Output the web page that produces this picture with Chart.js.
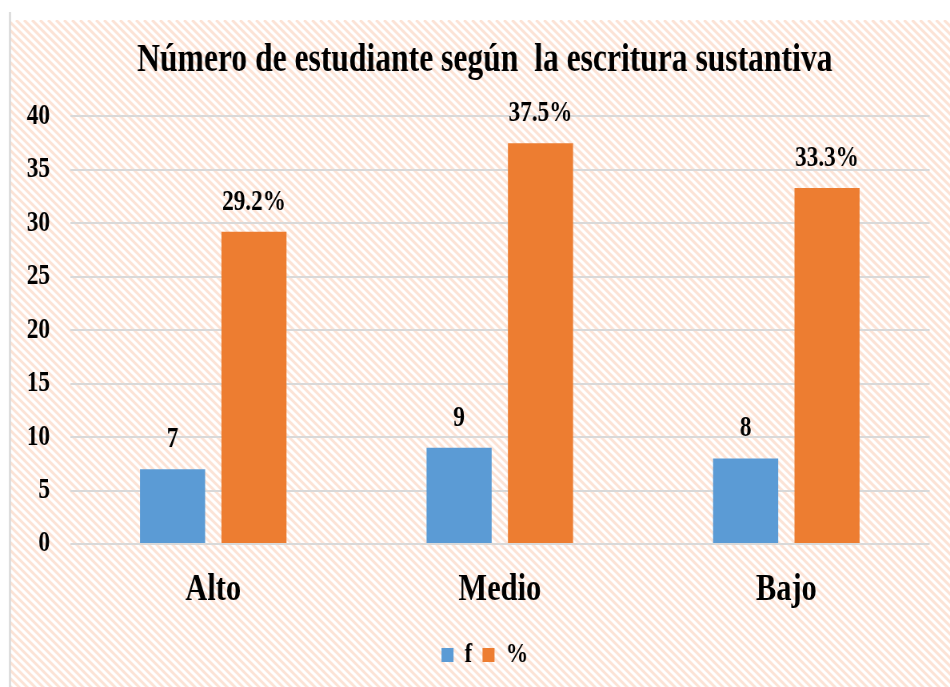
<!DOCTYPE html>
<html>
<head>
<meta charset="utf-8">
<script src="https://cdn.jsdelivr.net/npm/chart.js@4.4.0/dist/chart.umd.min.js"></script>
<style>
  html, body { margin: 0; padding: 0; background: #fff; }
</style>
</head>
<body>
<!-- drawn wider than shown, so the text comes out narrow like the original -->
<canvas id="myChart" width="1188" height="687" style="width:950px;height:687px;display:block"></canvas>
<script>
const categories = ["Alto", "Medio", "Bajo"];
const fValues = [7, 9, 8];
const pctValues = [29.2, 37.5, 33.3];
const seriesNames = ["f", "%"];
const yMin = 0, yMax = 40, yStep = 5;

const SX = 1188 / 950; // ref px -> canvas px, horizontally
const serif = "'Liberation Serif', 'Times New Roman', serif";

// hatched background + left border line
const backdrop = {
  id: "backdrop",
  beforeDraw(chart) {
    const ctx = chart.ctx;
    const w = chart.width, h = chart.height;
    ctx.save();
    ctx.fillStyle = "#fff";
    ctx.fillRect(0, 0, w, h);
    ctx.beginPath();
    ctx.rect(10 * SX, 20, w - 10 * SX, h - 20);
    ctx.clip();
    ctx.strokeStyle = "#FCE3D6";
    ctx.lineWidth = 3;
    for (let c = -720; c < 960; c += 8) {
      ctx.beginPath();
      ctx.moveTo(c * SX, 20);
      ctx.lineTo((c + 700) * SX, 720);
      ctx.stroke();
    }
    ctx.restore();
    ctx.save();
    ctx.strokeStyle = "#D9D9D9";
    ctx.lineWidth = 2.5;
    ctx.beginPath();
    ctx.moveTo(10 * SX, 12);
    ctx.lineTo(10 * SX, h);
    ctx.stroke();
    ctx.restore();
  },
  // y axis box is kept narrow so title/legend centre like the original;
  // widen its label clip area back out so the tick labels show
  afterLayout(chart) {
    chart.scales.y.left = 0;
  }
};

// value labels over the bars
const barLabels = {
  id: "barLabels",
  afterDatasetsDraw(chart) {
    const ctx = chart.ctx;
    ctx.save();
    ctx.font = "bold 29px " + serif;
    ctx.fillStyle = "#000";
    ctx.textAlign = "center";
    ctx.textBaseline = "alphabetic";
    chart.data.datasets.forEach((ds, i) => {
      const meta = chart.getDatasetMeta(i);
      meta.data.forEach((bar, j) => {
        const v = ds.data[j];
        const txt = i === 1 ? v.toFixed(1) + "%" : String(v);
        ctx.fillText(txt, bar.x, bar.y - 22);
      });
    });
    ctx.restore();
  }
};

const ctx = document.getElementById("myChart").getContext("2d");
new Chart(ctx, {
  type: "bar",
  data: {
    labels: categories,
    datasets: [
      { label: seriesNames[0], data: fValues, backgroundColor: "#5B9BD5" },
      { label: seriesNames[1], data: pctValues, backgroundColor: "#ED7D31" }
    ]
  },
  options: {
    responsive: false,
    devicePixelRatio: 1,
    animation: false,
    categoryPercentage: 0.568,
    barPercentage: 0.8,
    layout: { padding: { left: 50, right: 25.5, top: 20, bottom: 8 } },
    plugins: {
      title: {
        display: true,
        text: "Número de estudiante según  la escritura sustantiva",
        color: "#000",
        font: { family: serif, size: 39.5, weight: "bold" },
        padding: { top: 17, bottom: 32 }
      },
      legend: {
        position: "bottom",
        labels: {
          color: "#000",
          font: { family: serif, size: 28, weight: "bold" },
          boxWidth: 15,
          boxHeight: 14,
          padding: 13
        }
      },
      tooltip: { enabled: false }
    },
    scales: {
      x: {
        grid: { display: false },
        border: { display: false },
        ticks: {
          color: "#000",
          font: { family: serif, size: 38, weight: "bold", lineHeight: 1 },
          padding: 19
        }
      },
      y: {
        min: yMin,
        max: yMax,
        afterFit(scale) { scale.width = 37.5; },
        grid: { color: "#D9D9D9", lineWidth: 2, drawTicks: false },
        border: { display: false },
        ticks: {
          stepSize: yStep,
          color: "#000",
          font: { family: serif, size: 29, weight: "bold" },
          padding: 25
        }
      }
    }
  },
  plugins: [backdrop, barLabels]
});
</script>
</body>
</html>
